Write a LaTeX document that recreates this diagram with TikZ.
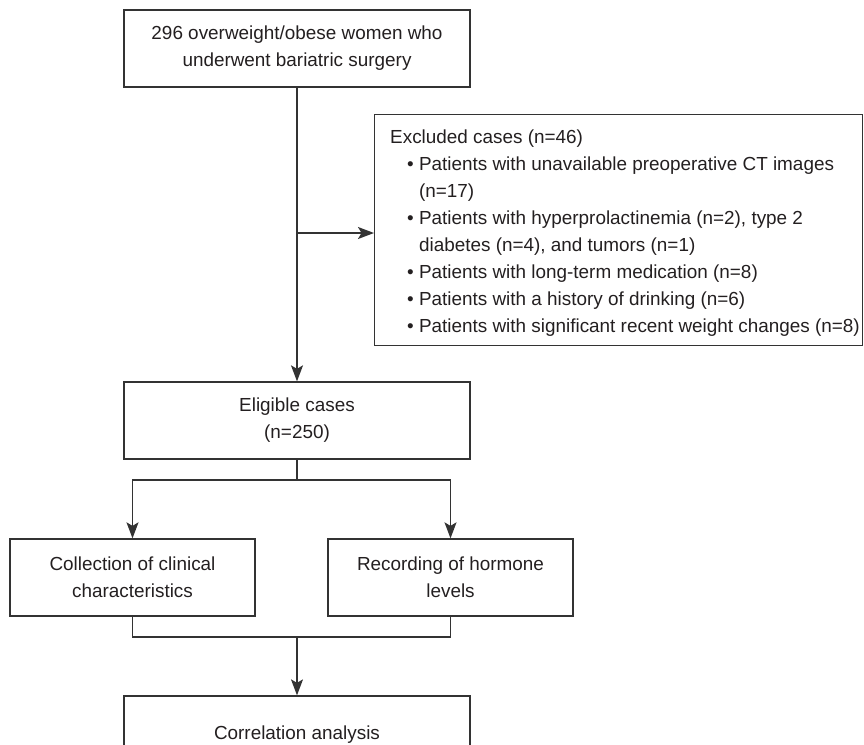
\documentclass[tikz,border=0pt]{standalone}
\usepackage{fontspec}
\setmainfont{Liberation Sans}
\usetikzlibrary{arrows.meta,calc}
\definecolor{linec}{HTML}{333333}
\definecolor{txtc}{HTML}{231F20}
\newcommand\fsz{\fontsize{18.9pt}{27pt}\selectfont}
\newcommand\bitem{\hspace*{17pt}•\ }
\newcommand\bcont{\hspace*{17pt}\phantom{•\ }}
\begin{document}
\begin{tikzpicture}[x=1pt,y=-1pt,
  box/.style={draw=linec, line width=1.3pt, minimum height=77pt, align=center, inner sep=0pt, font=\fsz, text=txtc},
  widebox/.style={box, minimum width=346pt},
  midbox/.style={box, minimum width=245pt},
  ln/.style={draw=linec, line width=1.3pt},
  arr/.style={ln, -{Stealth[length=16pt,width=12pt,inset=3.5pt]}}]
\clip (0,0) rectangle (864,744);
\useasboundingbox (0,0) rectangle (864,744);

\node[widebox] (top) at (297,48.5) {296 overweight/obese women who\\underwent bariatric surgery};
\node[widebox] (elig) at (297,420.5) {Eligible cases\\(n=250)};
\node[midbox] (clin) at (132.5,577.5) {Collection of clinical\\characteristics};
\node[midbox] (horm) at (450.5,577.5) {Recording of hormone\\levels};
\node[widebox] (corr) at (297,734.5) {Correlation analysis};

\node[draw=linec, line width=1.3pt, anchor=north west, minimum width=488pt, minimum height=231pt, inner sep=0pt] (excl) at (374,114) {};
\node[anchor=west, align=left, inner sep=0pt, font=\fsz, text=txtc] (excltext) at (390,233.5) {Excluded cases (n=46)\\
\bitem Patients with unavailable preoperative CT images\\
\bcont (n=17)\\
\bitem Patients with hyperprolactinemia (n=2), type 2\\
\bcont diabetes (n=4), and tumors (n=1)\\
\bitem Patients with long-term medication (n=8)\\
\bitem Patients with a history of drinking (n=6)\\
\bitem Patients with significant recent weight changes (n=8)};

\draw[arr] (top.south) -- (elig.north);
\coordinate (br) at (297,233);
\draw[arr] (br) -- (br -| excl.west);

\coordinate (sp) at (297,480);
\draw[ln] (elig.south) -- (sp);
\draw[arr] (sp) -| (clin.north);
\draw[arr] (sp) -| (horm.north);

\coordinate (mg) at (297,637);
\draw[ln] (clin.south) |- (mg);
\draw[ln] (horm.south) |- (mg);
\draw[arr] (mg) -- (corr.north);
\end{tikzpicture}
\end{document}
